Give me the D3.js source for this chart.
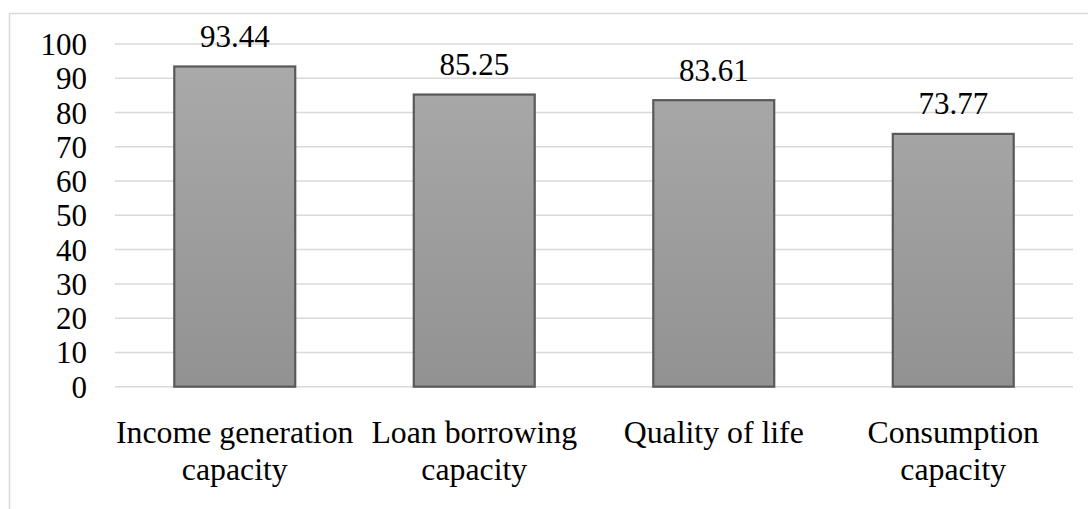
<!DOCTYPE html>
<html>
<head>
<meta charset="utf-8">
<script src="https://cdn.jsdelivr.net/npm/d3@7"></script>
</head>
<body style="margin:0;background:#fff">
<svg id="chart" width="1088" height="509" style="display:block;font-family:'Liberation Serif','Times New Roman',serif"></svg>
<script>
// Share of respondents reporting improvement, by capacity dimension
const categories = [
  ["Income generation", "capacity"],
  ["Loan borrowing", "capacity"],
  ["Quality of life"],
  ["Consumption", "capacity"]
];
const values = [93.44, 85.25, 83.61, 73.77];
const yTicks = [0, 10, 20, 30, 40, 50, 60, 70, 80, 90, 100];

const FONT = "Liberation Serif";
const FONT_SIZE = 31;
const CAT_FONT_SIZE = 31.8;

const svg = d3.select("#chart");
const plot = { left: 115, right: 1073, top: 44, bottom: 386.7 };

// Chart-area frame (extends past the canvas on the right and bottom)
svg.append("rect")
  .attr("x", 9.5).attr("y", 13.5)
  .attr("width", 1100).attr("height", 520)
  .attr("fill", "none")
  .attr("stroke", "#d9d9d9")
  .attr("stroke-width", 1.5);

const x = d3.scaleBand()
  .domain(d3.range(categories.length))
  .range([plot.left, plot.right])
  .paddingInner(0.495)
  .paddingOuter(0.2475);

const y = d3.scaleLinear()
  .domain([0, 100])
  .range([plot.bottom, plot.top]);

// Gridlines
svg.append("g")
  .selectAll("line")
  .data(yTicks)
  .join("line")
  .attr("x1", plot.left).attr("x2", plot.right)
  .attr("y1", d => y(d)).attr("y2", d => y(d))
  .attr("stroke", "#d9d9d9")
  .attr("stroke-width", 1.5);

// Y axis labels
const yAxis = d3.axisLeft(y).tickValues(yTicks).tickSize(0).tickPadding(0);
const yg = svg.append("g")
  .attr("transform", "translate(87,0)")
  .call(yAxis)
  .attr("font-family", null)
  .attr("font-size", null);
yg.select(".domain").remove();
yg.selectAll("text")
  .style("font-family", FONT)
  .attr("font-size", FONT_SIZE)
  .attr("fill", "#000")
  .attr("dy", "0.34em");

// Bar fill gradient
const defs = svg.append("defs");
const grad = defs.append("linearGradient")
  .attr("id", "barFill")
  .attr("gradientUnits", "userSpaceOnUse")
  .attr("x1", 0).attr("x2", 0)
  .attr("y1", plot.top).attr("y2", plot.bottom);
grad.append("stop").attr("offset", "0%").attr("stop-color", "#ababab");
grad.append("stop").attr("offset", "100%").attr("stop-color", "#929292");

// Bars
svg.append("g")
  .selectAll("rect")
  .data(values)
  .join("rect")
  .attr("x", (d, i) => x(i))
  .attr("y", d => y(d))
  .attr("width", x.bandwidth())
  .attr("height", d => y(0) - y(d))
  .attr("fill", "url(#barFill)")
  .attr("stroke", "#595959")
  .attr("stroke-width", 2.2);

// Value labels
svg.append("g")
  .selectAll("text")
  .data(values)
  .join("text")
  .attr("x", (d, i) => x(i) + x.bandwidth() / 2)
  .attr("y", d => y(d) - 19.5)
  .attr("text-anchor", "middle")
  .style("font-family", FONT)
  .attr("font-size", FONT_SIZE)
  .attr("fill", "#000")
  .text(d => d.toFixed(2));

// Category labels
const cg = svg.append("g")
  .selectAll("text")
  .data(categories)
  .join("text")
  .attr("x", (d, i) => x(i) + x.bandwidth() / 2)
  .attr("y", 443)
  .attr("text-anchor", "middle")
  .style("font-family", FONT)
  .attr("font-size", CAT_FONT_SIZE)
  .attr("fill", "#000");
cg.selectAll("tspan")
  .data(d => d)
  .join("tspan")
  .attr("x", function () { return d3.select(this.parentNode).attr("x"); })
  .attr("dy", (d, i) => i === 0 ? 0 : 36.5)
  .text(d => d);
</script>
</body>
</html>
